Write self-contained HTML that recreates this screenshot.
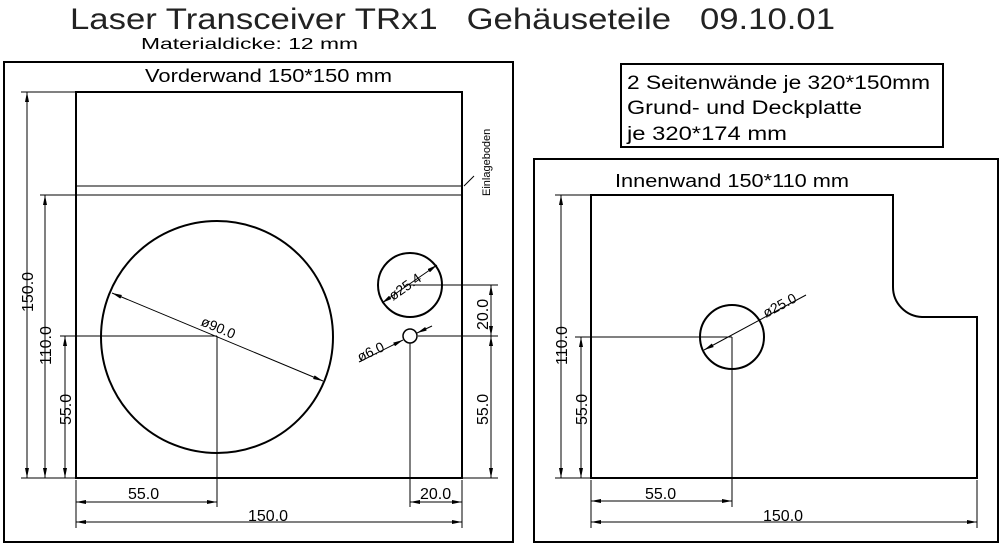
<!DOCTYPE html>
<html><head><meta charset="utf-8"><style>html,body{margin:0;padding:0;background:#fff}svg{display:block}text{white-space:pre}</style></head>
<body>
<svg width="1004" height="549" viewBox="0 0 1004 549" xmlns="http://www.w3.org/2000/svg" font-family="Liberation Sans, sans-serif" fill="none" stroke="#000">
<defs>
<marker id="a" viewBox="0 0 10 4" refX="10" refY="2" markerWidth="10" markerHeight="4" orient="auto-start-reverse" markerUnits="userSpaceOnUse"><path d="M0,0L10,2L0,4Z" fill="#000" stroke="none"/></marker>
</defs>
<g fill="#000" stroke="none">
<text x="70" y="29" font-size="30" textLength="765" lengthAdjust="spacingAndGlyphs" fill="#222">Laser Transceiver TRx1&#160;&#160;&#160;Gehäuseteile&#160;&#160;&#160;09.10.01</text>
<text x="141" y="49" font-size="16" textLength="217" lengthAdjust="spacingAndGlyphs">Materialdicke: 12 mm</text>
<text x="145" y="82" font-size="18" textLength="247" lengthAdjust="spacingAndGlyphs">Vorderwand 150*150 mm</text>
<text x="627" y="89" font-size="19" textLength="303" lengthAdjust="spacingAndGlyphs">2 Seitenwände je 320*150mm</text>
<text x="627" y="114" font-size="19" textLength="235" lengthAdjust="spacingAndGlyphs">Grund- und Deckplatte</text>
<text x="627" y="140" font-size="19" textLength="160" lengthAdjust="spacingAndGlyphs">je 320*174 mm</text>
<text x="615" y="187" font-size="18" textLength="234" lengthAdjust="spacingAndGlyphs">Innenwand 150*110 mm</text>
<text font-size="11" transform="translate(490,196) rotate(-90)">Einlageboden</text>
<text font-size="16" transform="translate(33,312) rotate(-90)">150.0</text>
<text font-size="16" transform="translate(51,365) rotate(-90)">110.0</text>
<text font-size="16" transform="translate(71,425) rotate(-90)">55.0</text>
<text font-size="16" transform="translate(488,330) rotate(-90)">20.0</text>
<text font-size="16" transform="translate(488,425) rotate(-90)">55.0</text>
<text font-size="16" x="128" y="499">55.0</text>
<text font-size="16" x="420" y="499">20.0</text>
<text font-size="16" x="248" y="521">150.0</text>
<text font-size="14" transform="translate(200,325) rotate(23)">ø90.0</text>
<text font-size="14" transform="translate(393,301) rotate(-35)">ø25.4</text>
<text font-size="14" transform="translate(360,362) rotate(-25)">ø6.0</text>
<text font-size="16" transform="translate(567,365) rotate(-90)">110.0</text>
<text font-size="16" transform="translate(587,425) rotate(-90)">55.0</text>
<text font-size="16" x="645" y="499">55.0</text>
<text font-size="16" x="763" y="521">150.0</text>
<text font-size="14" transform="translate(766,318) rotate(-28)">ø25.0</text>
</g>
<rect x="4" y="62" width="509" height="480" stroke-width="2"/>
<rect x="621" y="64" width="322" height="83" stroke-width="2"/>
<rect x="534" y="159" width="464" height="383" stroke-width="2"/>
<rect x="76" y="92" width="386" height="386" stroke-width="2"/>
<g stroke-width="1">
<line x1="76" y1="186" x2="462" y2="186"/>
<line x1="40" y1="195" x2="462" y2="195"/>
<line x1="464" y1="186" x2="474" y2="176"/>
</g>
<circle cx="217" cy="337" r="116" stroke-width="2"/>
<circle cx="410" cy="285" r="32" stroke-width="2"/>
<circle cx="410" cy="336" r="7" stroke-width="1.5"/>
<g stroke-width="1">
<line x1="21" y1="92" x2="76" y2="92"/>
<line x1="21" y1="478" x2="76" y2="478"/>
<line x1="60" y1="336" x2="217" y2="336"/>
<line x1="217" y1="336" x2="217" y2="507"/>
<line x1="410" y1="285" x2="498" y2="285"/>
<line x1="418" y1="336" x2="498" y2="336"/>
<line x1="410" y1="343" x2="410" y2="507"/>
<line x1="462" y1="478" x2="498" y2="478"/>
<line x1="76" y1="480" x2="76" y2="528"/>
<line x1="462" y1="480" x2="462" y2="528"/>
<line x1="27" y1="92" x2="27" y2="478" marker-start="url(#a)" marker-end="url(#a)"/>
<line x1="45" y1="195" x2="45" y2="478" marker-start="url(#a)" marker-end="url(#a)"/>
<line x1="65" y1="336" x2="65" y2="478" marker-start="url(#a)" marker-end="url(#a)"/>
<line x1="491" y1="285" x2="491" y2="336" marker-start="url(#a)" marker-end="url(#a)"/>
<line x1="491" y1="336" x2="491" y2="478" marker-start="url(#a)" marker-end="url(#a)"/>
<line x1="76" y1="502" x2="217" y2="502" marker-start="url(#a)" marker-end="url(#a)"/>
<line x1="410" y1="502" x2="462" y2="502" marker-start="url(#a)" marker-end="url(#a)"/>
<line x1="76" y1="522" x2="462" y2="522" marker-start="url(#a)" marker-end="url(#a)"/>
<line x1="112" y1="293" x2="323" y2="381" marker-start="url(#a)" marker-end="url(#a)"/>
<line x1="382" y1="303" x2="437" y2="265" marker-start="url(#a)" marker-end="url(#a)"/>
<line x1="359" y1="362" x2="403" y2="340" marker-end="url(#a)"/>
<line x1="432" y1="326" x2="417" y2="333" marker-end="url(#a)"/>
</g>
<path d="M591,195 H893 V287 A30,30 0 0 0 922,317 H977 V478 H591 Z" stroke-width="2"/>
<circle cx="732" cy="337" r="32" stroke-width="2"/>
<g stroke-width="1">
<line x1="555" y1="195" x2="591" y2="195"/>
<line x1="555" y1="478" x2="591" y2="478"/>
<line x1="575" y1="337" x2="732" y2="337"/>
<line x1="732" y1="337" x2="732" y2="507"/>
<line x1="591" y1="480" x2="591" y2="528"/>
<line x1="977" y1="480" x2="977" y2="528"/>
<line x1="561" y1="195" x2="561" y2="478" marker-start="url(#a)" marker-end="url(#a)"/>
<line x1="581" y1="337" x2="581" y2="478" marker-start="url(#a)" marker-end="url(#a)"/>
<line x1="591" y1="501" x2="732" y2="501" marker-start="url(#a)" marker-end="url(#a)"/>
<line x1="591" y1="522" x2="977" y2="522" marker-start="url(#a)" marker-end="url(#a)"/>
<line x1="806" y1="295" x2="704" y2="350" marker-end="url(#a)"/>
</g>
</svg>
</body></html>
